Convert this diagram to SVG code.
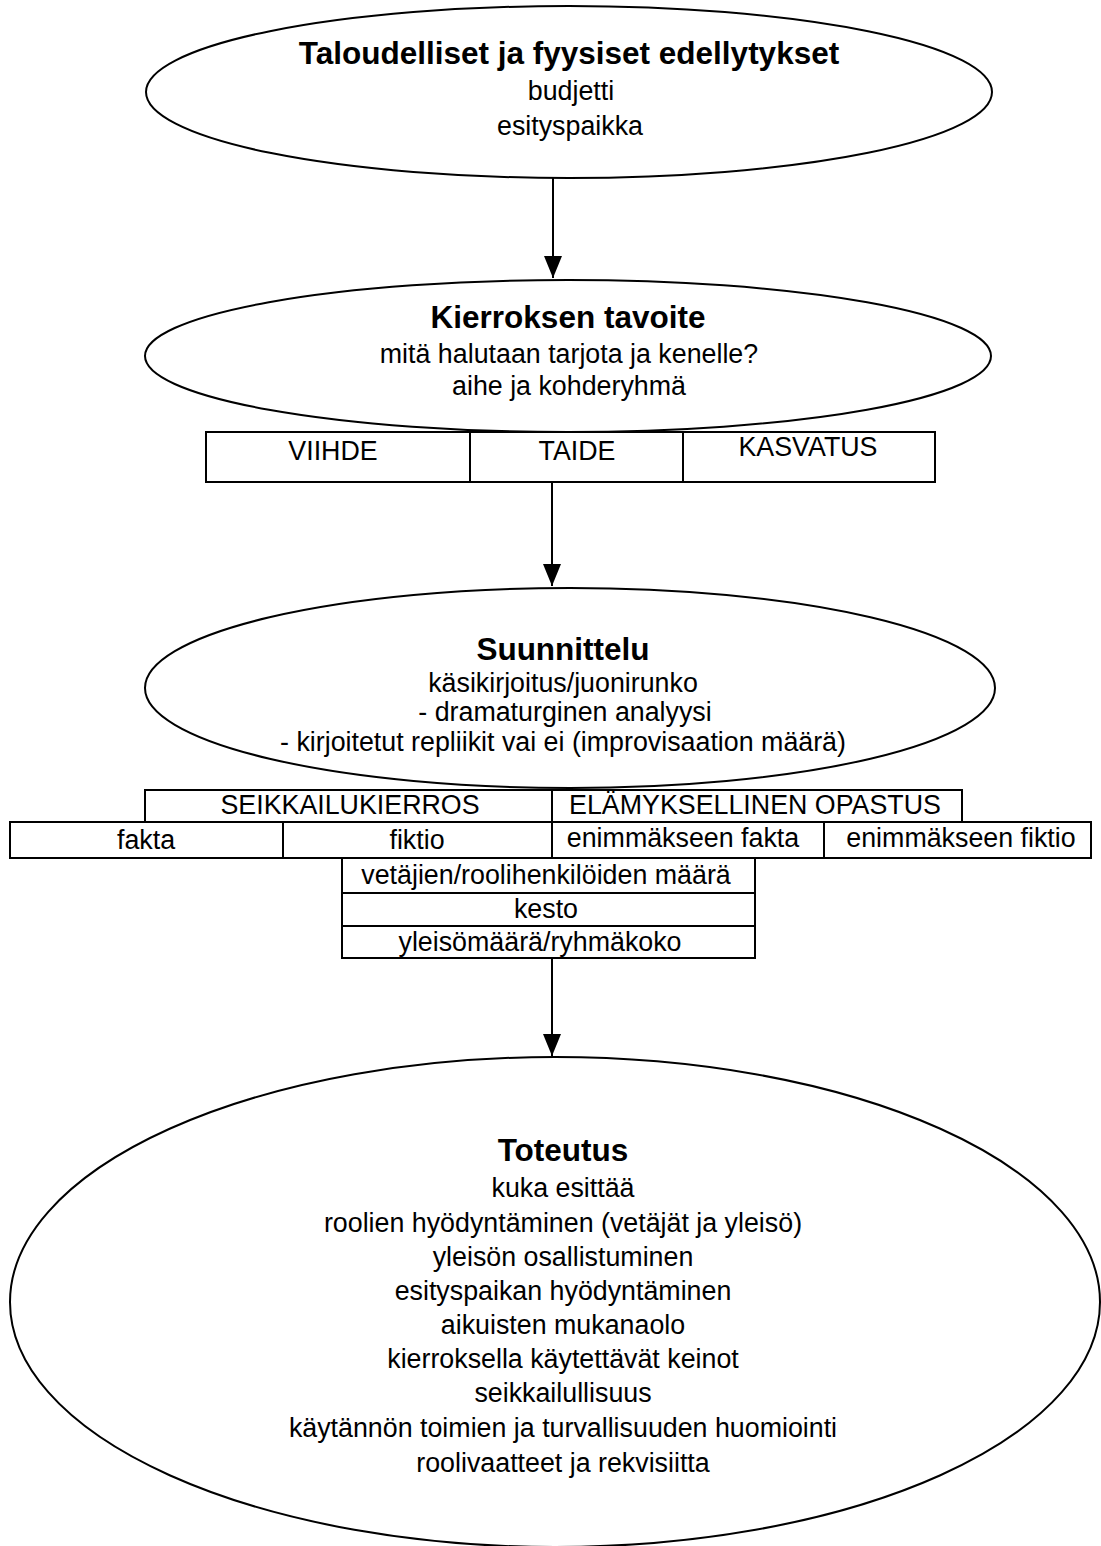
<svg xmlns="http://www.w3.org/2000/svg" width="1101" height="1546" viewBox="0 0 1101 1546">
<style>
.sh{fill:none;stroke:#000;stroke-width:2}
.t{font-family:"Liberation Sans",Arial,sans-serif;font-size:26.8px;text-anchor:middle;fill:#000}
.b{font-family:"Liberation Sans",Arial,sans-serif;font-size:31.5px;font-weight:bold;text-anchor:middle;fill:#000}
.c{stroke:#000;stroke-width:2;fill:none;marker-end:url(#ah)}
</style>
<defs>
<marker id="ah" markerWidth="22" markerHeight="18" refX="22" refY="9" orient="auto" markerUnits="userSpaceOnUse" viewBox="0 0 22 18">
<path d="M0,0 L22,9 L0,18 Z" fill="#000"/>
</marker>
</defs>
<rect width="1101" height="1546" fill="#fff"/>
<g id="connectors">
<line class="c" x1="553" y1="178" x2="553" y2="278"/>
<line class="c" x1="552" y1="482" x2="552" y2="586"/>
<line class="c" x1="552" y1="958" x2="552" y2="1056"/>
</g>
<g id="n1">
<ellipse class="sh" cx="569" cy="92" rx="423" ry="86"/>
<text class="b" x="569" y="64">Taloudelliset ja fyysiset edellytykset</text>
<text class="t" x="571" y="100">budjetti</text>
<text class="t" x="570" y="135">esityspaikka</text>
</g>
<g id="n2">
<ellipse class="sh" cx="568" cy="356" rx="423" ry="76"/>
<text class="b" x="568" y="328">Kierroksen tavoite</text>
<text class="t" x="569" y="363">mitä halutaan tarjota ja kenelle?</text>
<text class="t" x="569" y="395">aihe ja kohderyhmä</text>
</g>
<g id="n2boxes">
<rect class="sh" x="206" y="432" width="264" height="50"/>
<rect class="sh" x="470" y="432" width="213" height="50"/>
<rect class="sh" x="683" y="432" width="252" height="50"/>
<text class="t" x="333" y="460">VIIHDE</text>
<text class="t" x="577" y="460">TAIDE</text>
<text class="t" x="808" y="456">KASVATUS</text>
</g>
<g id="n3">
<ellipse class="sh" cx="570" cy="688" rx="425" ry="100"/>
<text class="b" x="563" y="660">Suunnittelu</text>
<text class="t" x="563" y="692">käsikirjoitus/juonirunko</text>
<text class="t" x="565" y="721">- dramaturginen analyysi</text>
<text class="t" x="563" y="751">- kirjoitetut repliikit vai ei (improvisaation määrä)</text>
</g>
<g id="n3boxes">
<rect class="sh" x="145" y="790" width="407" height="32"/>
<rect class="sh" x="552" y="790" width="410" height="32"/>
<text class="t" x="350" y="814">SEIKKAILUKIERROS</text>
<text class="t" x="755" y="814">ELÄMYKSELLINEN OPASTUS</text>
<rect class="sh" x="10" y="822" width="273" height="36"/>
<rect class="sh" x="283" y="822" width="269" height="36"/>
<rect class="sh" x="552" y="822" width="272" height="36"/>
<rect class="sh" x="824" y="822" width="267" height="36"/>
<text class="t" x="146" y="849">fakta</text>
<text class="t" x="417" y="849">fiktio</text>
<text class="t" x="683" y="847">enimmäkseen fakta</text>
<text class="t" x="961" y="847">enimmäkseen fiktio</text>
<rect class="sh" x="342" y="858" width="413" height="35"/>
<rect class="sh" x="342" y="893" width="413" height="33"/>
<rect class="sh" x="342" y="926" width="413" height="32"/>
<text class="t" x="546" y="884">vetäjien/roolihenkilöiden määrä</text>
<text class="t" x="546" y="918">kesto</text>
<text class="t" x="540" y="951">yleisömäärä/ryhmäkoko</text>
</g>
<g id="n4">
<ellipse class="sh" cx="555" cy="1302" rx="545" ry="245"/>
<text class="b" x="563" y="1161">Toteutus</text>
<text class="t" x="563" y="1197">kuka esittää</text>
<text class="t" x="563" y="1232">roolien hyödyntäminen (vetäjät ja yleisö)</text>
<text class="t" x="563" y="1266">yleisön osallistuminen</text>
<text class="t" x="563" y="1300">esityspaikan hyödyntäminen</text>
<text class="t" x="563" y="1334">aikuisten mukanaolo</text>
<text class="t" x="563" y="1368">kierroksella käytettävät keinot</text>
<text class="t" x="563" y="1402">seikkailullisuus</text>
<text class="t" x="563" y="1437">käytännön toimien ja turvallisuuden huomiointi</text>
<text class="t" x="563" y="1472">roolivaatteet ja rekvisiitta</text>
</g>
</svg>
